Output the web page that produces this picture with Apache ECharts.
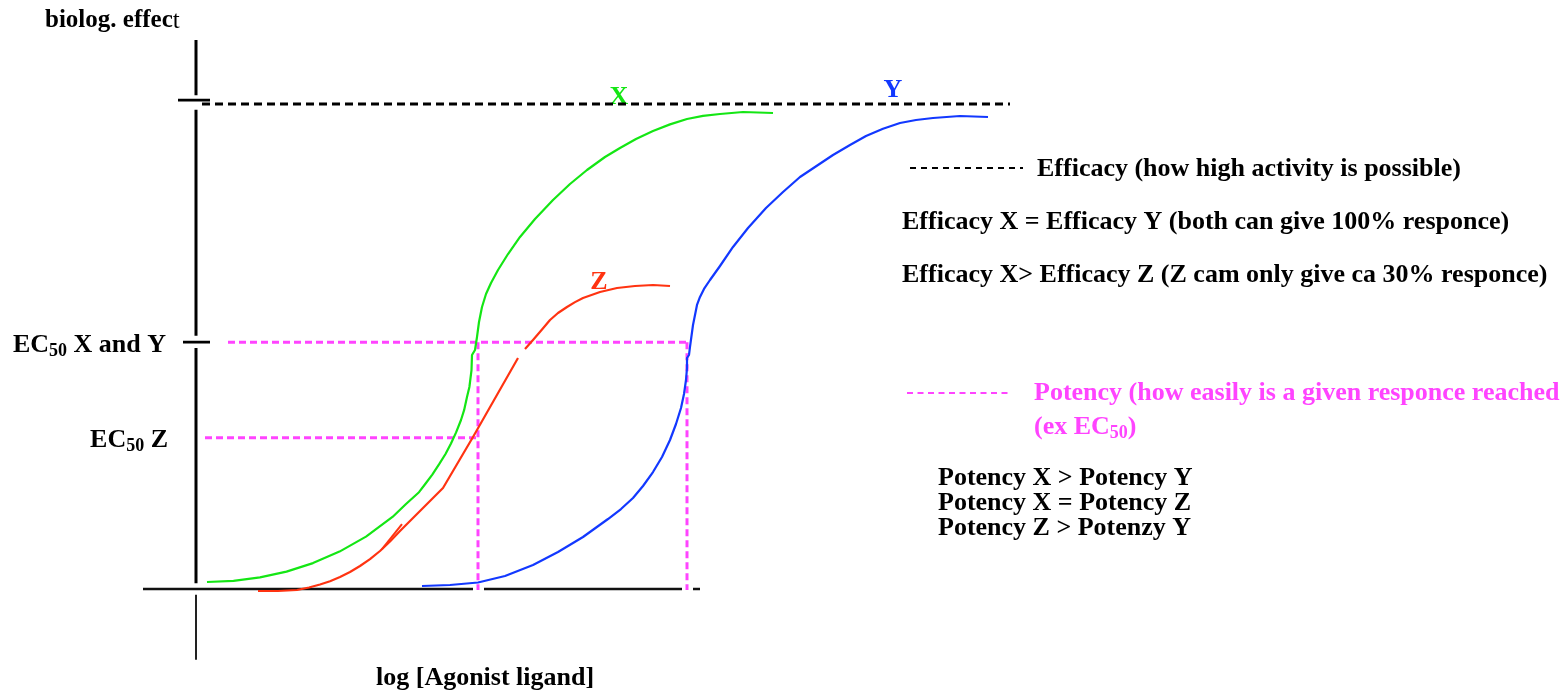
<!DOCTYPE html>
<html><head><meta charset="utf-8">
<script src="https://cdn.jsdelivr.net/npm/echarts@6/dist/echarts.min.js"></script>
<style>html,body{margin:0;padding:0;background:#fff}#c{width:1565px;height:694px}</style>
</head><body><div id="c"></div>
<script>
// ---- data: x = log [agonist] (arbitrary units), y = biological effect (%) ----
const curveX = [[0.11,1.44],[0.375,1.67],[0.64,2.39],[0.905,3.59],[1.17,5.34],[1.435,7.71],[1.70,10.80],[1.965,14.85],[2.10,17.53],[2.23,19.96],[2.30,21.86],[2.363,23.59],[2.43,25.69],[2.495,27.84],[2.55,30.0],[2.601,32.29],[2.65,34.85],[2.681,36.87],[2.71,39.59],[2.734,41.65],[2.755,45.15],[2.76,48.25],
  [2.79,49.28],[2.81,51.96],[2.83,55.05],[2.86,58.14],[2.90,60.82],[2.95,63.09],[3.02,65.77],[3.12,69.07],[3.24,72.58],[3.39,76.29],[3.57,80.21],[3.74,83.51],[3.91,86.39],[4.09,89.07],[4.24,90.93],[4.40,92.80],[4.57,94.43],[4.74,95.80],[4.91,96.91],[5.07,97.55],[5.24,97.94],[5.47,98.35],[5.77,98.14]];
const curveY = [[2.26,0.62],[2.54,0.82],[2.82,1.34],[3.09,2.68],[3.37,4.95],[3.62,7.63],[3.87,10.72],[4.12,14.43],[4.25,16.49],[4.37,18.76],[4.47,21.24],[4.57,24.12],[4.66,27.22],[4.74,30.72],[4.80,34.02],[4.85,37.32],[4.88,40.21],[4.90,43.09],[4.91,45.57],[4.91,47.63],[4.93,48.25],
  [4.94,49.90],[4.97,54.43],[5.01,58.56],[5.04,60.21],[5.08,61.86],[5.14,63.71],[5.24,66.60],[5.37,70.52],[5.52,74.43],[5.70,78.56],[5.87,81.86],[6.04,84.95],[6.22,87.42],[6.37,89.48],[6.54,91.55],[6.70,93.40],[6.87,94.90],[7.04,96.08],[7.20,96.70],[7.37,97.11],[7.64,97.53],[7.92,97.32]];
const curveZlow = [[0.62,-0.41],[0.82,-0.41],[1.01,-0.21],[1.13,0.30],[1.24,0.93],[1.34,1.60],[1.44,2.47],[1.54,3.50],[1.64,4.74],[1.74,6.15],[1.84,7.84],[1.94,9.80],[2.04,11.96],[2.47,20.82],[2.77,31.34],[3.22,47.63]];
const curveZhigh = [[3.29,49.48],[3.37,51.34],[3.46,53.50],[3.54,55.46],[3.62,56.90],[3.71,58.14],[3.79,59.15],[3.87,60.0],[4.04,61.24],[4.21,62.06],[4.39,62.47],[4.57,62.68],[4.74,62.47]];
const curveZstroke = [[1.86,8.2],[2.06,13.4]];

const efficacyLevel = 100;       // max effect (X and Y)
const ec50XY = 50.9;             // response level at EC50 of X and Y
const ec50Z = 31.2;              // response level at EC50 of Z
const ec50Xlog = 2.82;           // log conc at EC50 of X (and Z)
const ec50Ylog = 4.91;           // log conc at EC50 of Y

// axis drawing segments (in data units)
const yAxisSegs = [[[0,113.2],[0,101.8]],[[0,98.8],[0,52.2]],[[0,49.7],[0,1.2]]];
const yAxisTail = [[0,-1.2],[0,-14.6]];
const xAxisSegs = [[[-0.53,0],[2.77,0]],[[2.88,0],[4.86,0]],[[4.97,0],[5.04,0]]];
const tickSegs = [[[-0.18,100.8],[0.14,100.8]],[[-0.13,ec50XY],[0.14,ec50XY]]];

// text
const yTitle = ['biolog. effec','t'];
const xTitle = 'log [Agonist ligand]';
const yTickLabels = [['EC','50',' X and Y'],['EC','50',' Z']];
const curveNames = ['X','Y','Z'];
const notesEfficacy = ['Efficacy (how high activity is possible)','Efficacy X = Efficacy Y (both can give 100% responce)','Efficacy X> Efficacy Z (Z cam only give ca 30% responce)'];
const notesPotency = ['Potency (how easily is a given responce reached','(ex EC','50',')'];
const potencyLines = ['Potency X > Potency Y','Potency X = Potency Z','Potency Z > Potenzy Y'];

const GREEN='#14e614', BLUE='#1238ff', RED='#ff3311', MAG='#ff44ff', BLACK='#000';
const FONT='Liberation Serif';

function ln(data, color, width, type, z){
  return {type:'line', data:data, symbol:'none', smooth:false, silent:true, animation:false,
    lineStyle:{color:color, width:width, type:type||'solid', cap:'butt', join:'round'}, z:z||2};
}
const series = [];
yAxisSegs.forEach(s=>series.push(ln(s,BLACK,3)));
series.push(ln(yAxisTail,'#222',2));
xAxisSegs.forEach(s=>series.push(ln(s,'#111',2.6)));
tickSegs.forEach(s=>series.push(ln(s,BLACK,2.6)));
series.push(ln([[0.06,efficacyLevel],[8.14,efficacyLevel]],BLACK,3,[8,5]));
series.push(ln([[0.32,ec50XY],[ec50Ylog,ec50XY]],MAG,3,[7,4]));
series.push(ln([[ec50Xlog,ec50XY],[ec50Xlog,-0.2]],MAG,3,[7,4]));
series.push(ln([[ec50Ylog,ec50XY],[ec50Ylog,-0.2]],MAG,3,[7,4]));
series.push(ln([[0.09,ec50Z],[ec50Xlog,ec50Z]],MAG,3,[7,4]));
series.push(ln(curveX,GREEN,2.2,'solid',5));
series.push(ln(curveY,BLUE,2.2,'solid',5));
series.push(ln(curveZlow,RED,2.2,'solid',5));
series.push(ln(curveZhigh,RED,2.2,'solid',5));
series.push(ln(curveZstroke,RED,2,'solid',5));

const FS = 26;
const F = 'bold '+FS+'px "'+FONT+'"';
function t(x,y,text,fill,align){
  return {type:'text', x:x, y:y, silent:true,
    style:{text:text, fill:fill||BLACK, font:F, textAlign:align||'left', textVerticalAlign:'middle'}};
}
function richSub(x,y,parts,fill,align){
  return {type:'text', x:x, y:y, silent:true, style:{
    text:'{n|'+parts[0]+'}{s|'+parts[1]+'}{n|'+parts[2]+'}',
    textAlign:align, textVerticalAlign:'middle',
    rich:{
      n:{fontFamily:FONT,fontWeight:'bold',fontSize:FS,lineHeight:30,fill:fill},
      s:{fontFamily:FONT,fontWeight:'bold',fontSize:18,lineHeight:18,verticalAlign:'bottom',fill:fill}
    }}};
}
const graphic = [
  {type:'text', x:45, y:21, silent:true, style:{text:'{b|'+yTitle[0]+'}{r|'+yTitle[1]+'}', textAlign:'left', textVerticalAlign:'middle',
    rich:{b:{fontFamily:FONT,fontWeight:'bold',fontSize:25,fill:BLACK}, r:{fontFamily:FONT,fontWeight:'normal',fontSize:25,fill:BLACK}}}},
  richSub(166,345,yTickLabels[0],BLACK,'right'),
  richSub(168,440,yTickLabels[1],BLACK,'right'),
  t(376,678,xTitle),
  t(619,97,curveNames[0],GREEN,'center'),
  t(893,90,curveNames[1],BLUE,'center'),
  t(599,282,curveNames[2],RED,'center'),
  {type:'line', silent:true, shape:{x1:910,y1:168,x2:1023,y2:168}, style:{stroke:BLACK,lineWidth:2,lineDash:[6,5]}},
  t(1037,169,notesEfficacy[0]),
  t(902,222,notesEfficacy[1]),
  t(902,275,notesEfficacy[2]),
  {type:'line', silent:true, shape:{x1:907,y1:393,x2:1012,y2:393}, style:{stroke:MAG,lineWidth:2,lineDash:[6,4.5]}},
  t(1034,393,notesPotency[0],MAG),
  richSub(1034,427,[notesPotency[1],notesPotency[2],notesPotency[3]],MAG,'left'),
  t(938,478,potencyLines[0]),
  t(938,503,potencyLines[1]),
  t(938,528,potencyLines[2])
];

const chart = echarts.init(document.getElementById('c'), null, {renderer:'canvas'});
chart.setOption({
  animation:false,
  backgroundColor:'#fff',
  grid:{left:96, right:169, top:7, bottom:8},
  xAxis:{type:'value', min:-1, max:12, show:false},
  yAxis:{type:'value', min:-20, max:120, show:false},
  series:series,
  graphic:graphic
});
</script></body></html>
